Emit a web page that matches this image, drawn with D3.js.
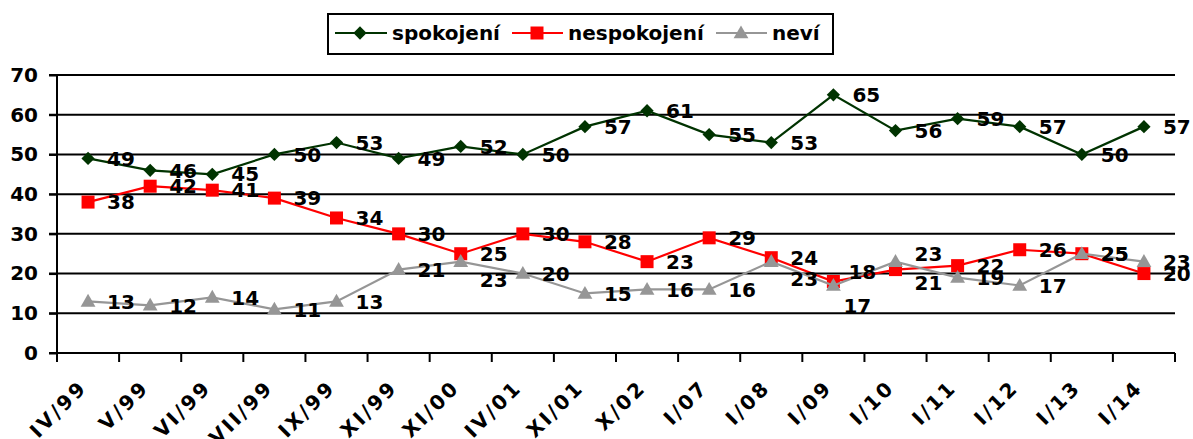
<!DOCTYPE html>
<html>
<head>
<meta charset="utf-8">
<script src="https://cdn.jsdelivr.net/npm/d3@7/dist/d3.min.js"></script>
<style>
  html, body { margin: 0; padding: 0; background: #fff; }
  svg { display: block; }
  text { font-family: "DejaVu Sans", Verdana, sans-serif; font-weight: bold; fill: #000; }
</style>
</head>
<body>
<svg id="chart" width="1193" height="439"></svg>
<script>
// ---- data ----
const categories = ["IV/99","V/99","VI/99","VII/99","IX/99","XI/99","XI/00","IV/01","XI/01","X/02","I/07","I/08","I/09","I/10","I/11","I/12","I/13","I/14"];
const spokojeni   = [49,46,45,50,53,49,52,50,57,61,55,53,65,56,59,57,50,57];
const nespokojeni = [38,42,41,39,34,30,25,30,28,23,29,24,18,21,22,26,25,20];
const nevi        = [13,12,14,11,13,21,23,20,15,16,16,23,17,23,19,17,25,23];
const seriesNames = ["spokojení","nespokojení","neví"];
const yTickValues = [0,10,20,30,40,50,60,70];

// ---- layout / style ----
const W = 1193, H = 439;
const plot = { left: 57, right: 1175, top: 75, bottom: 353 };
const colors = ["#003300", "#ff0000", "#969696"];
const symbols = ["diamond", "square", "triangle"];
// manual data-label nudges (dx, dy) keyed "series:index"
const labelNudges = {
  "2:6": [0, 18], "2:11": [0, 17], "2:12": [-9, 20], "2:13": [0, -8],
  "1:12": [-4, -10], "1:13": [0, 13]
};

const svg = d3.select("#chart");
const x = d3.scaleBand().domain(categories).range([plot.left, plot.right]).padding(0);
const y = d3.scaleLinear().domain([0, 70]).range([plot.bottom, plot.top]);
const cx = d => x(d) + x.bandwidth() / 2;

// grid lines (including y-axis outer tick marks)
svg.append("g").selectAll("line").data(yTickValues.filter(v => v > 0)).join("line")
  .attr("x1", plot.left - 8).attr("x2", plot.right)
  .attr("y1", d => y(d)).attr("y2", d => y(d))
  .attr("stroke", "#000").attr("stroke-width", 2);

// y axis
const yAxis = d3.axisLeft(y).tickValues(yTickValues).tickSize(8).tickPadding(11);
const gy = svg.append("g").attr("transform", `translate(${plot.left},0)`).call(yAxis);
gy.select(".domain").remove();
gy.selectAll(".tick line").attr("stroke", "#000").attr("stroke-width", 2);
gy.selectAll(".tick text").style("font-size", "20px").attr("fill", "#000")
  .style("font-family", "'DejaVu Sans', Verdana, sans-serif").style("font-weight", "bold");
svg.append("line").attr("x1", plot.left).attr("x2", plot.left)
  .attr("y1", plot.top).attr("y2", plot.bottom).attr("stroke", "#000").attr("stroke-width", 2);

// x axis line
svg.append("line").attr("x1", plot.left - 8).attr("x2", plot.right)
  .attr("y1", plot.bottom).attr("y2", plot.bottom).attr("stroke", "#000").attr("stroke-width", 2);
// x ticks at category boundaries
const bounds = categories.map(c => x(c)).concat([plot.right]);
svg.append("g").selectAll("line").data(bounds).join("line")
  .attr("x1", d => d).attr("x2", d => d)
  .attr("y1", plot.bottom).attr("y2", plot.bottom + 9)
  .attr("stroke", "#000").attr("stroke-width", 2);
// x labels rotated
svg.append("g").selectAll("text").data(categories).join("text")
  .attr("transform", d => `translate(${cx(d)},${plot.bottom + 36}) rotate(-45)`)
  .attr("text-anchor", "end")
  .style("font-size", "20px")
  .style("letter-spacing", "2.5px")
  .text(d => d);

// series
const allSeries = [spokojeni, nespokojeni, nevi];
function symbolPath(kind) {
  if (kind === "diamond") return d3.symbol(d3.symbolSquare, 88)();
  if (kind === "square") return d3.symbol(d3.symbolSquare, 169)();
  return d3.symbol(d3.symbolTriangle, 95)();
}
const line = d3.line().x((d, i) => cx(categories[i])).y(d => y(d));
allSeries.forEach((vals, s) => {
  const g = svg.append("g");
  g.append("path").datum(vals).attr("d", line)
    .attr("fill", "none").attr("stroke", colors[s]).attr("stroke-width", 2.2);
  g.selectAll("path.m").data(vals).join("path").attr("class", "m")
    .attr("d", symbolPath(symbols[s]))
    .attr("transform", (d, i) => `translate(${cx(categories[i])},${y(d) + (symbols[s] === "triangle" ? 1 : 0)})` + (symbols[s] === "diamond" ? " rotate(45)" : ""))
    .attr("fill", colors[s]);
});

// data labels
allSeries.forEach((vals, s) => {
  svg.append("g").selectAll("text").data(vals).join("text")
    .attr("x", (d, i) => cx(categories[i]) + 19 + ((labelNudges[s + ":" + i] || [0, 0])[0]))
    .attr("y", (d, i) => y(d) + ((labelNudges[s + ":" + i] || [0, 0])[1]))
    .attr("dy", "0.36em")
    .style("font-size", "20px")
    .text(d => d);
});

// legend
const lg = svg.append("g");
lg.append("rect").attr("x", 328).attr("y", 14).attr("width", 505).attr("height", 40)
  .attr("fill", "#fff").attr("stroke", "#000").attr("stroke-width", 2);
const legendItems = [
  { lx1: 335, lx2: 387, mx: 360, tx: 392 },
  { lx1: 512, lx2: 563, mx: 537, tx: 568 },
  { lx1: 716, lx2: 767, mx: 741, tx: 772 }
];
legendItems.forEach((it, s) => {
  lg.append("line").attr("x1", it.lx1).attr("x2", it.lx2).attr("y1", 33).attr("y2", 33)
    .attr("stroke", colors[s]).attr("stroke-width", 2.2);
  lg.append("path").attr("d", symbolPath(symbols[s]))
    .attr("transform", `translate(${it.mx},${33 + (symbols[s] === "triangle" ? 1 : 0)})` + (symbols[s] === "diamond" ? " rotate(45)" : ""))
    .attr("fill", colors[s]);
  lg.append("text").attr("x", it.tx).attr("y", 40).style("font-size", "20px").text(seriesNames[s]);
});
</script>
</body>
</html>
